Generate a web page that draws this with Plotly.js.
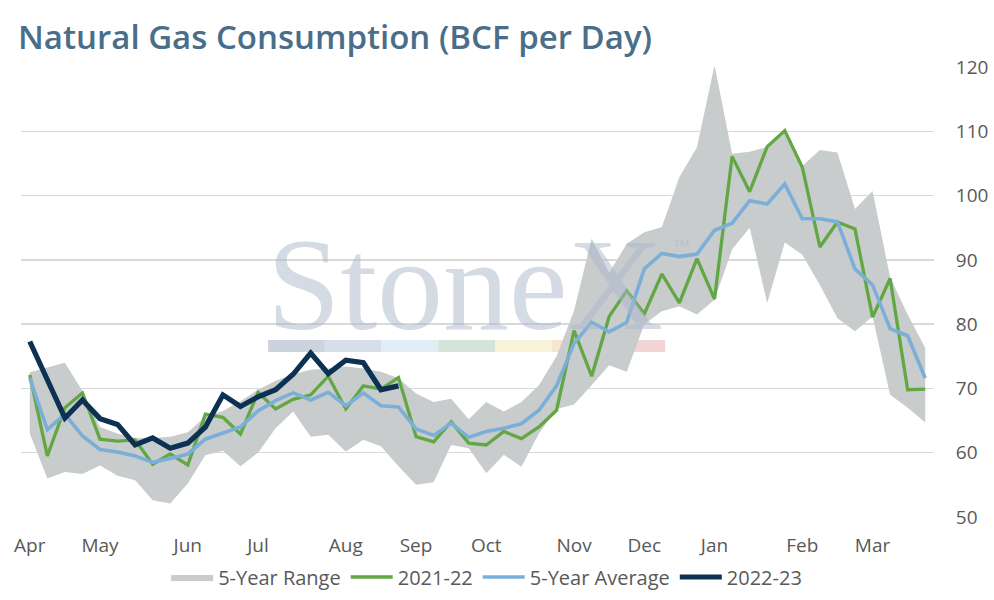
<!DOCTYPE html>
<html><head><meta charset="utf-8">
<script src="https://cdn.plot.ly/plotly-3.0.1.min.js"></script>
<style>html,body{margin:0;padding:0;background:#fff}#chart{width:994px;height:600px}</style>
</head><body><div id="chart"></div>
<script>
// Weekly data, April (week 0) through end of March (week 51)
const monthTickIndex = [0, 4, 9, 13, 18, 22, 26, 31, 35, 39, 44, 48];
const monthLabels = ["Apr", "May", "Jun", "Jul", "Aug", "Sep", "Oct", "Nov", "Dec", "Jan", "Feb", "Mar"];

const rangeLow = [63.0, 56.0, 57.0, 56.7, 58.0, 56.4, 55.7, 52.6, 52.1, 55.2,
  59.6, 60.3, 57.9, 60.0, 63.8, 66.4, 62.5, 62.8, 60.2, 62.0,
  61.0, 57.9, 55.0, 55.4, 61.2, 60.7, 56.8, 59.7, 57.8, 63.0,
  66.8, 67.5, 70.5, 73.6, 72.6, 80.0, 82.0, 82.8, 81.5, 83.8,
  91.6, 95.0, 83.3, 92.7, 90.8, 86.1, 80.9, 78.9, 81.2, 69.0,
  67.0, 64.7];
const rangeHigh = [72.5, 73.2, 74.0, 69.6, 64.0, 63.0, 62.3, 62.3, 62.5, 63.2,
  65.6, 66.5, 68.0, 69.8, 71.2, 72.2, 72.9, 73.1, 73.4, 73.1,
  72.6, 71.6, 69.2, 67.9, 68.4, 65.2, 67.9, 66.4, 67.9, 70.5,
  75.0, 82.1, 93.3, 88.0, 92.5, 94.3, 95.1, 102.9, 107.5, 120.3,
  106.5, 106.8, 107.6, 110.1, 104.6, 107.1, 106.7, 97.9, 100.7, 87.3,
  81.5, 76.3];
const avg5yr = [71.6, 63.6, 66.0, 62.6, 60.5, 60.1, 59.5, 58.5, 59.1, 59.8,
  62.1, 63.0, 64.0, 66.5, 68.1, 69.3, 68.2, 69.4, 67.3, 69.3,
  67.3, 67.1, 63.7, 62.7, 64.6, 62.4, 63.3, 63.8, 64.5, 66.6,
  70.4, 77.0, 80.3, 78.8, 80.3, 88.6, 91.0, 90.5, 90.9, 94.6,
  95.7, 99.2, 98.7, 101.8, 96.4, 96.4, 95.9, 88.6, 86.1, 79.3,
  78.2, 71.6];
const season2021_22 = [72.1, 59.5, 67.0, 69.3, 62.1, 61.8, 62.0, 58.2, 59.8, 58.1,
  66.0, 65.5, 62.9, 69.4, 66.8, 68.3, 69.0, 71.9, 66.8, 70.4,
  69.9, 71.7, 62.5, 61.7, 64.8, 61.5, 61.2, 63.3, 62.2, 64.0,
  66.6, 79.0, 71.9, 81.2, 85.2, 81.6, 87.8, 83.3, 90.2, 83.9,
  106.1, 100.6, 107.6, 110.1, 104.4, 92.0, 95.9, 94.8, 81.1, 87.1,
  69.8, 69.9];
const season2022_23 = [77.3, 71.1, 65.4, 68.2, 65.3, 64.4, 61.2, 62.3, 60.7, 61.5,
  64.0, 69.0, 67.2, 68.7, 69.8, 72.2, 75.5, 72.3, 74.4, 74.0,
  69.8, 70.4];

const weekIndex = rangeLow.map((_, i) => i);
const gray = "#595959";
const textFont = "Open Sans, sans-serif";

const traces = [
  { x: weekIndex, y: rangeLow, type: "scatter", mode: "lines",
    line: { width: 0, color: "#c9cccd" }, showlegend: false, hoverinfo: "skip" },
  { x: weekIndex, y: rangeHigh, type: "scatter", mode: "lines", fill: "tonexty",
    fillcolor: "#c9cccd", line: { width: 0, color: "#c9cccd" }, name: "5-Year Range" },
  { x: weekIndex, y: season2021_22, type: "scatter", mode: "lines", name: "2021-22",
    line: { color: "#62a744", width: 3.3 } },
  { x: weekIndex, y: avg5yr, type: "scatter", mode: "lines", name: "5-Year Average",
    line: { color: "#7bafd8", width: 3.6 } },
  { x: weekIndex.slice(0, season2022_23.length), y: season2022_23, type: "scatter", mode: "lines",
    name: "2022-23", line: { color: "#0c3152", width: 5.2 } }
];

const plotL = 21, plotR = 933.6, plotT = 67, plotB = 517;
const px = v => (v - plotL) / (plotR - plotL);
const py = v => (plotB - v) / (plotB - plotT);

const barColors = ["#cdd3dd", "#d6dee8", "#e3edf5", "#d5e4da", "#f7f3d9", "#f7e5d2", "#f3d4d5"];
const shapes = barColors.map((c, k) => ({
  type: "rect", xref: "paper", yref: "paper", layer: "below",
  x0: px(268 + k * 56.7), x1: px(268 + (k + 1) * 56.7),
  y0: py(352), y1: py(340), line: { width: 0 }, fillcolor: c
}));

const layout = {
  width: 994, height: 600,
  margin: { l: plotL, r: 994 - plotR, t: plotT, b: 600 - plotB, pad: 0, autoexpand: false },
  paper_bgcolor: "#ffffff", plot_bgcolor: "#ffffff",
  font: { family: textFont, color: gray, size: 19 },
  title: { text: "Natural Gas Consumption (BCF per Day)", x: 18 / 994, xanchor: "left",
    xref: "container", y: 1 - 37 / 600, yref: "container", yanchor: "middle",
    font: { family: textFont, size: 33, color: "#4a6e8a", weight: 600 } },
  xaxis: { range: [-0.5, 51.5], tickmode: "array", tickvals: monthTickIndex, ticktext: monthLabels,
    showgrid: false, zeroline: false, showline: false, ticks: "outside", ticklen: 11,
    tickcolor: "rgba(0,0,0,0)", tickfont: { family: textFont, size: 19, color: gray },
    automargin: false, fixedrange: true },
  yaxis: { range: [50, 120], side: "right", dtick: 10, tick0: 50, showgrid: true,
    gridcolor: "#d9d9d9", gridwidth: 1.5, zeroline: false, showline: false,
    ticks: "outside", ticklen: 17, tickcolor: "rgba(0,0,0,0)",
    tickfont: { family: textFont, size: 19, color: gray }, automargin: false, fixedrange: true },
  showlegend: true,
  legend: { orientation: "h", x: 0.51, xanchor: "center", yref: "container", y: 1 - 577 / 600,
    yanchor: "middle", font: { family: textFont, size: 20, color: gray },
    traceorder: "normal", itemwidth: 42 },
  shapes: shapes,
  annotations: [
    { text: "StoneX", xref: "paper", yref: "paper", x: px(465), y: py(284),
      xanchor: "center", yanchor: "middle", showarrow: false,
      font: { family: "Liberation Serif, serif", size: 132, color: "rgba(170,184,204,0.5)" } },
    { text: "™", xref: "paper", yref: "paper", x: px(681), y: py(246),
      xanchor: "center", yanchor: "middle", showarrow: false,
      font: { family: "Liberation Sans, sans-serif", size: 18, color: "rgba(170,184,204,0.5)" } }
  ]
};

Plotly.newPlot("chart", traces, layout, { displayModeBar: false, staticPlot: true });
</script>
</body></html>
